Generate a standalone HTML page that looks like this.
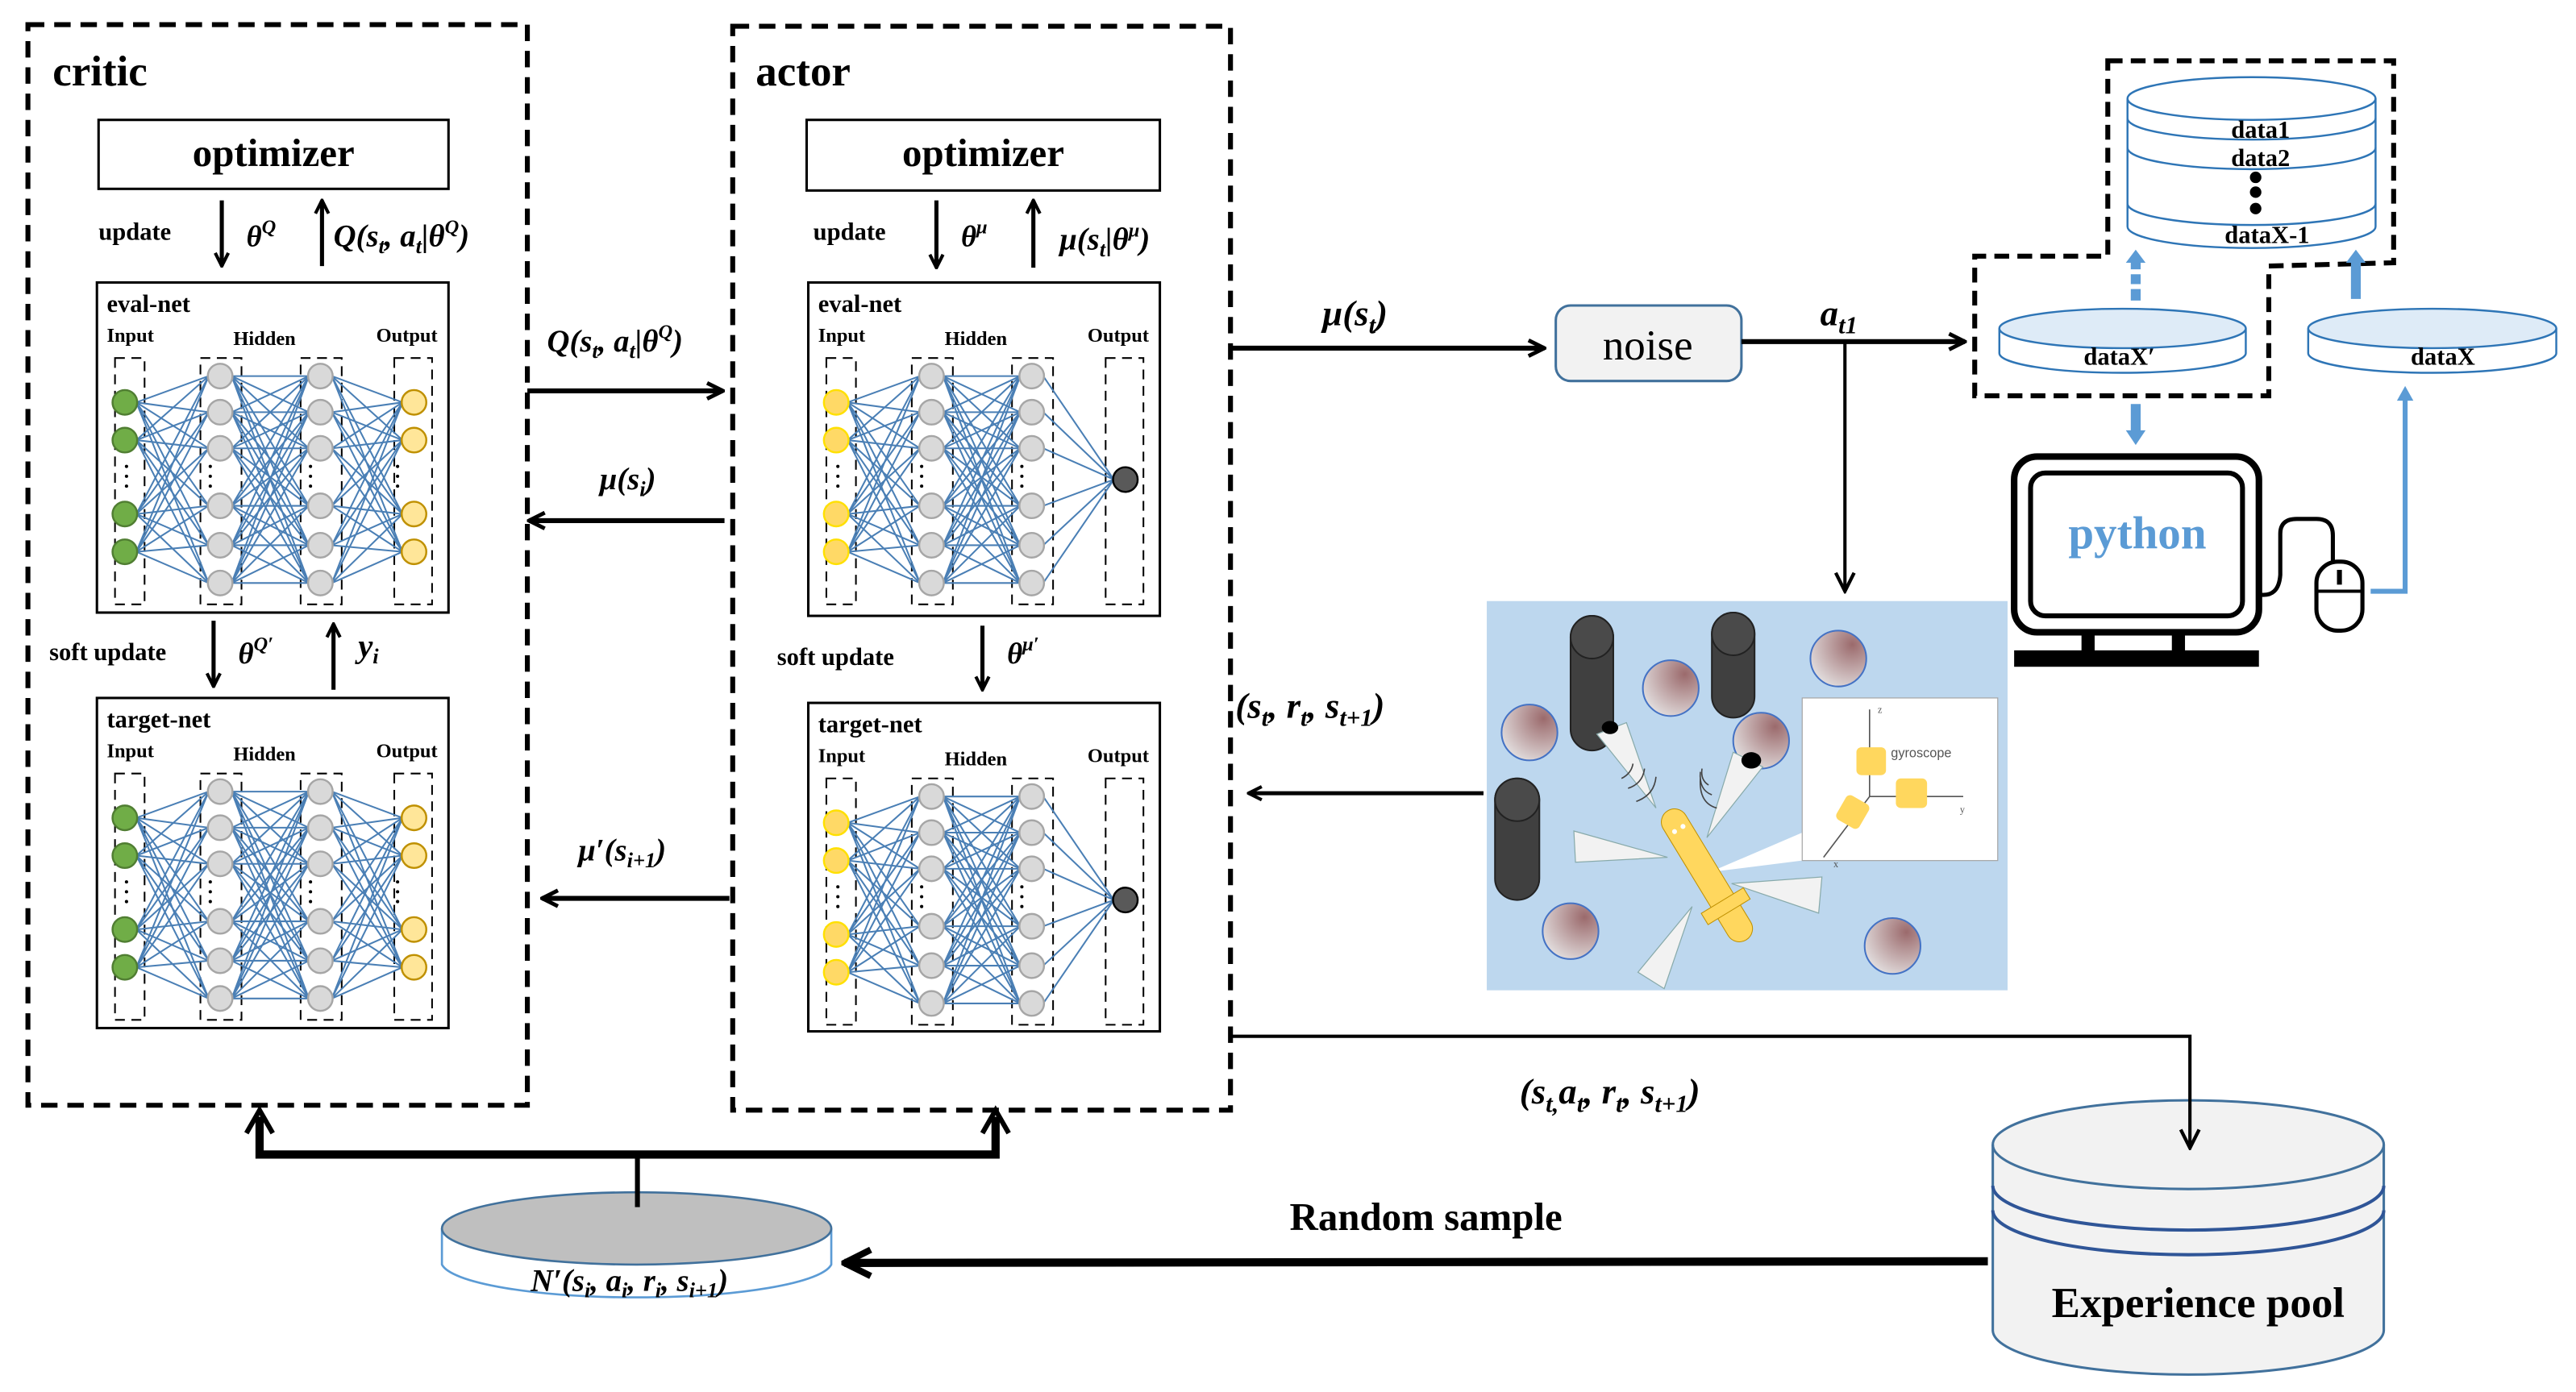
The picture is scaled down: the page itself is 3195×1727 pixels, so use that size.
<!DOCTYPE html>
<html><head><meta charset="utf-8">
<style>
html,body{margin:0;padding:0;background:#fff;}
svg{display:block;}
text{font-family:"Liberation Serif",serif;}
.b{font-weight:bold;}
.m{font-weight:bold;font-style:italic;}
</style></head>
<body>
<svg id="s" xmlns="http://www.w3.org/2000/svg" width="3195" height="1727" viewBox="0 0 1568 847.6" preserveAspectRatio="none">
<defs>
<marker id="ah" viewBox="0 0 10 10" refX="9" refY="5" markerWidth="4" markerHeight="4" orient="auto" markerUnits="strokeWidth"><path d="M1,1 L9,5 L1,9" fill="none" stroke="#000" stroke-width="2"/></marker>
<marker id="ahs" viewBox="0 0 10 10" refX="9" refY="5" markerWidth="7" markerHeight="7" orient="auto" markerUnits="strokeWidth"><path d="M1,1 L9,5 L1,9" fill="none" stroke="#000" stroke-width="1.5"/></marker>
<radialGradient id="ball" cx="0.75" cy="0.25" r="0.9"><stop offset="0" stop-color="#9b6a6c"/><stop offset="1" stop-color="#e6e4e4"/></radialGradient>
</defs>

<rect x="17" y="15" width="304" height="658" fill="none" stroke="#000" stroke-width="3" stroke-dasharray="10,6"/>
<rect x="446" y="16" width="303" height="660" fill="none" stroke="#000" stroke-width="3" stroke-dasharray="10,6"/>
<text x="32" y="52" class="b" font-size="26">critic</text>
<text x="460" y="52" class="b" font-size="26">actor</text>

<rect x="60" y="73" width="213" height="42" fill="#fff" stroke="#000" stroke-width="1.5"/>
<text x="166.5" y="101" class="b" font-size="24" text-anchor="middle">optimizer</text>
<rect x="491" y="73" width="215" height="43" fill="#fff" stroke="#000" stroke-width="1.5"/>
<text x="598.5" y="101" class="b" font-size="24" text-anchor="middle">optimizer</text>

<text x="60" y="146" class="b" font-size="15">update</text>
<line x1="135" y1="122" x2="135" y2="162" stroke="#000" stroke-width="2.5" marker-end="url(#ah)"/>
<text x="150" y="150" class="m" font-size="18">θ<tspan font-size="12" dy="-8">Q</tspan></text>
<line x1="196" y1="162" x2="196" y2="122" stroke="#000" stroke-width="2.5" marker-end="url(#ah)"/>
<text x="203" y="150" class="m" font-size="19">Q(s<tspan font-size="13" dy="4">t</tspan><tspan dy="-4">, a</tspan><tspan font-size="13" dy="4">t</tspan><tspan dy="-4">|θ</tspan><tspan font-size="12" dy="-8">Q</tspan><tspan dy="8">)</tspan></text>

<text x="30" y="402" class="b" font-size="15">soft update</text>
<line x1="130" y1="378" x2="130" y2="418" stroke="#000" stroke-width="2.5" marker-end="url(#ah)"/>
<text x="145" y="404" class="m" font-size="18">θ<tspan font-size="12" dy="-8">Q′</tspan></text>
<line x1="203" y1="420" x2="203" y2="380" stroke="#000" stroke-width="2.5" marker-end="url(#ah)"/>
<text x="218" y="400" class="m" font-size="20">y<tspan font-size="13" dy="4">i</tspan></text>

<text x="495" y="146" class="b" font-size="15">update</text>
<line x1="570" y1="122" x2="570" y2="163" stroke="#000" stroke-width="2.5" marker-end="url(#ah)"/>
<text x="585" y="150" class="m" font-size="18">θ<tspan font-size="12" dy="-8">μ</tspan></text>
<line x1="629" y1="163" x2="629" y2="122" stroke="#000" stroke-width="2.5" marker-end="url(#ah)"/>
<text x="645" y="152" class="m" font-size="19">μ(s<tspan font-size="13" dy="4">t</tspan><tspan dy="-4">|θ</tspan><tspan font-size="12" dy="-8">μ</tspan><tspan dy="8">)</tspan></text>

<text x="473" y="405" class="b" font-size="15">soft update</text>
<line x1="598" y1="381" x2="598" y2="420" stroke="#000" stroke-width="2.5" marker-end="url(#ah)"/>
<text x="613" y="404" class="m" font-size="18">θ<tspan font-size="12" dy="-8">μ′</tspan></text>

<g id="nets"></g>

<text x="333" y="214" class="m" font-size="19">Q(s<tspan font-size="13" dy="4">t</tspan><tspan dy="-4">, a</tspan><tspan font-size="13" dy="4">t</tspan><tspan dy="-4">|θ</tspan><tspan font-size="12" dy="-8">Q</tspan><tspan dy="8">)</tspan></text>
<line x1="321" y1="238" x2="440" y2="238" stroke="#000" stroke-width="3" marker-end="url(#ah)"/>
<text x="365" y="298" class="m" font-size="19">μ(s<tspan font-size="13" dy="4">i</tspan><tspan dy="-4">)</tspan></text>
<line x1="441" y1="317" x2="322" y2="317" stroke="#000" stroke-width="3" marker-end="url(#ah)"/>
<text x="352" y="524" class="m" font-size="19">μ′(s<tspan font-size="13" dy="4">i+1</tspan><tspan dy="-4">)</tspan></text>
<line x1="444" y1="547" x2="330" y2="547" stroke="#000" stroke-width="3" marker-end="url(#ah)"/>

<text x="805" y="198" class="m" font-size="22">μ(s<tspan font-size="15" dy="5">t</tspan><tspan dy="-5">)</tspan></text>
<line x1="749" y1="212" x2="940" y2="212" stroke="#000" stroke-width="3" marker-end="url(#ah)"/>
<rect x="947" y="186" width="113" height="46" rx="9" fill="#f2f2f2" stroke="#41719c" stroke-width="1.5"/>
<text x="1003" y="219" font-size="26" text-anchor="middle">noise</text>
<text x="1108" y="198" class="m" font-size="22">a<tspan font-size="15" dy="5">t1</tspan></text>
<line x1="1060" y1="208" x2="1196" y2="208" stroke="#000" stroke-width="3" marker-end="url(#ah)"/>
<line x1="1123" y1="208" x2="1123" y2="360" stroke="#000" stroke-width="2" marker-end="url(#ahs)"/>

<rect x="905" y="366" width="317" height="237" fill="#bdd7ee"/>
<g stroke="#4472c4" stroke-width="1" fill="url(#ball)">
<ellipse cx="931" cy="446" rx="17" ry="17"/>
<ellipse cx="1017" cy="419" rx="17" ry="17"/>
<ellipse cx="1119" cy="401" rx="17" ry="17"/>
<ellipse cx="1072" cy="451" rx="17" ry="17"/>
<ellipse cx="956" cy="567" rx="17" ry="17"/>
<ellipse cx="1152" cy="576" rx="17" ry="17"/>
</g>
<g fill="#404040" stroke="#222" stroke-width="1">
<path d="M956,388 A13,13 0 0 1 982,388 L982,444 A13,13 0 0 1 956,444 Z"/>
<ellipse cx="969" cy="388" rx="13" ry="13" fill="#4a4a4a"/>
<path d="M1042,386 A13,13 0 0 1 1068,386 L1068,424 A13,13 0 0 1 1042,424 Z"/>
<ellipse cx="1055" cy="386" rx="13" ry="13" fill="#4a4a4a"/>
<path d="M910,487 A13.5,13 0 0 1 937,487 L937,535 A13.5,13 0 0 1 910,535 Z"/>
<ellipse cx="923.5" cy="487" rx="13.5" ry="13" fill="#4a4a4a"/>
</g>
<g fill="#f2f2f2" stroke="#8aa" stroke-width="0.6">
<polygon points="1008,492 972,447 990,440"/>
<polygon points="1039,510 1055,458 1073,467"/>
<polygon points="1015,522 958,506 959,525"/>
<polygon points="1054,538 1109,534 1107,556"/>
<polygon points="1030,552 997,592 1013,602"/>
<polygon points="1041,531 1097,507 1097,524" fill="#fff" stroke="none"/>
</g>
<ellipse cx="980" cy="443" rx="5" ry="4" fill="#000"/>
<ellipse cx="1066" cy="463" rx="6" ry="5" fill="#000"/>
<g fill="none" stroke="#444" stroke-width="0.8">
<path d="M987,474 q6,-3 7,-9"/><path d="M991,480 q9,-3 10,-12"/><path d="M996,488 q11,-4 12,-15"/>
<path d="M1040,478 q-5,-3 -4,-10"/><path d="M1042,484 q-8,-3 -7,-14"/><path d="M1045,492 q-11,-3 -10,-18"/>
</g>
<g transform="translate(1039,533) rotate(58.7)">
<rect x="-46" y="-8" width="92" height="16" rx="8" fill="#ffd75e" stroke="#bf9000" stroke-width="0.5"/>
<rect x="18" y="-15" width="8" height="30" fill="#ffd75e" stroke="#bf9000" stroke-width="0.5"/>
<circle cx="-33" cy="-3" r="1.5" fill="#fff"/><circle cx="-33" cy="3" r="1.5" fill="#fff"/>
</g>
<rect x="1097" y="425" width="119" height="99" fill="#fff" stroke="#a6a6a6" stroke-width="0.6"/>
<g stroke="#555" stroke-width="0.8" fill="none">
<line x1="1138" y1="485" x2="1138" y2="432"/>
<line x1="1138" y1="485" x2="1195" y2="485"/>
<line x1="1138" y1="485" x2="1110" y2="522"/>
</g>
<rect x="1130" y="455" width="18" height="17" rx="3" fill="#ffd75e"/>
<rect x="1154" y="474" width="19" height="18" rx="3" fill="#ffd75e"/>
<rect x="1120" y="486" width="16" height="17" rx="3" fill="#ffd75e" transform="rotate(30 1128 494)"/>
<text x="1151" y="461" font-size="8" fill="#555" style="font-family:'Liberation Sans',sans-serif">gyroscope</text>
<text x="1143" y="434" font-size="6" fill="#555">z</text>
<text x="1193" y="495" font-size="6" fill="#555">y</text>
<text x="1116" y="528" font-size="6" fill="#555">x</text>

<text x="752" y="437" class="m" font-size="22">(s<tspan font-size="15" dy="5">t</tspan><tspan dy="-5">, r</tspan><tspan font-size="15" dy="5">t</tspan><tspan dy="-5">, s</tspan><tspan font-size="15" dy="5">t+1</tspan><tspan dy="-5">)</tspan></text>
<line x1="903" y1="483" x2="760" y2="483" stroke="#000" stroke-width="2.5" marker-end="url(#ah)"/>

<text x="925" y="672" class="m" font-size="22">(s<tspan font-size="15" dy="5">t,</tspan><tspan dy="-5">a</tspan><tspan font-size="15" dy="5">t</tspan><tspan dy="-5">, r</tspan><tspan font-size="15" dy="5">t</tspan><tspan dy="-5">, s</tspan><tspan font-size="15" dy="5">t+1</tspan><tspan dy="-5">)</tspan></text>

<path d="M1213,697 A119,27 0 0 1 1451,697 L1451,810 A119,27 0 0 1 1213,810 Z" fill="#f2f2f2" stroke="#41719c" stroke-width="1.5"/>
<path d="M1213,697 A119,27 0 0 0 1451,697" fill="none" stroke="#41719c" stroke-width="1.5"/>
<path d="M1213,722 A119,27 0 0 0 1451,722" fill="none" stroke="#2f5597" stroke-width="2"/>
<path d="M1213,737 A119,27 0 0 0 1451,737" fill="none" stroke="#2f5597" stroke-width="2"/>
<text x="1338" y="802" class="b" font-size="26" text-anchor="middle">Experience pool</text>
<polyline points="749,631 1333,631 1333,699" fill="none" stroke="#000" stroke-width="2" marker-end="url(#ahs)"/>

<text x="868" y="749" class="b" font-size="24" text-anchor="middle">Random sample</text>
<line x1="1210" y1="768" x2="514" y2="769" stroke="#000" stroke-width="5" marker-end="url(#ah)"/>

<path d="M269,748 L269,770 A119,22 0 0 0 506,770 L506,748" fill="#fff" stroke="#5b9bd5" stroke-width="1.3"/>
<ellipse cx="387.5" cy="748" rx="118.5" ry="22" fill="#bfbfbf" stroke="#41719c" stroke-width="1.3"/>
<text x="323" y="786" class="m" font-size="19">N′(s<tspan font-size="13" dy="4">i</tspan><tspan dy="-4">, a</tspan><tspan font-size="13" dy="4">i</tspan><tspan dy="-4">, r</tspan><tspan font-size="13" dy="4">i</tspan><tspan dy="-4">, s</tspan><tspan font-size="13" dy="4">i+1</tspan><tspan dy="-4">)</tspan></text>
<line x1="388" y1="735" x2="388" y2="703" stroke="#000" stroke-width="3"/>
<polyline points="158,680 158,703 606,703 606,680" fill="none" stroke="#000" stroke-width="5"/>
<path d="M150,690 L158,676 L166,690" fill="none" stroke="#000" stroke-width="3"/>
<path d="M598,690 L606,676 L614,690" fill="none" stroke="#000" stroke-width="3"/>

<polygon points="1283,37 1457,37 1457,160 1381,162 1381,241 1202,241 1202,156 1283,156" fill="none" stroke="#000" stroke-width="3" stroke-dasharray="9,5"/>
<path d="M1295,60 A75.5,13 0 0 1 1446,60 L1446,138 A75.5,13 0 0 1 1295,138 Z" fill="#fff" stroke="#2e75b6" stroke-width="1.2"/>
<path d="M1295,60 A75.5,13 0 0 0 1446,60" fill="none" stroke="#2e75b6" stroke-width="1.2"/>
<path d="M1295,72 A75.5,13 0 0 0 1446,72" fill="none" stroke="#2e75b6" stroke-width="1.2"/>
<path d="M1295,90 A75.5,13 0 0 0 1446,90" fill="none" stroke="#2e75b6" stroke-width="1.2"/>
<path d="M1295,124 A75.5,13 0 0 0 1446,124" fill="none" stroke="#2e75b6" stroke-width="1.2"/>
<text x="1376" y="84" class="b" font-size="15" text-anchor="middle">data1</text>
<text x="1376" y="101" class="b" font-size="15" text-anchor="middle">data2</text>
<circle cx="1373" cy="108" r="3.5"/><circle cx="1373" cy="117" r="3.5"/><circle cx="1373" cy="127" r="3.5"/>
<text x="1380" y="148" class="b" font-size="15" text-anchor="middle">dataX-1</text>

<path d="M1217,200 L1217,215 A75,12 0 0 0 1367,215 L1367,200" fill="#fff" stroke="#2e75b6" stroke-width="1.2"/>
<ellipse cx="1292" cy="200" rx="75" ry="12" fill="#deebf7" stroke="#2e75b6" stroke-width="1.2"/>
<text x="1290" y="222" class="b" font-size="15" text-anchor="middle">dataX′</text>
<path d="M1405,200 L1405,215 A75.5,12 0 0 0 1556,215 L1556,200" fill="#fff" stroke="#2e75b6" stroke-width="1.2"/>
<ellipse cx="1480.5" cy="200" rx="75.5" ry="12" fill="#deebf7" stroke="#2e75b6" stroke-width="1.2"/>
<text x="1487" y="222" class="b" font-size="15" text-anchor="middle">dataX</text>

<g fill="#5b9bd5">
<polygon points="1300,152 1306,160 1303,160 1303,164 1297,164 1297,160 1294,160"/>
<rect x="1297" y="167" width="6" height="6"/><rect x="1297" y="176" width="6" height="7"/>
<polygon points="1434,152 1440,160 1437,160 1437,182 1431,182 1431,160 1428,160"/>
<polygon points="1300,271 1306,262 1303,262 1303,246 1297,246 1297,262 1294,262"/>
</g>
<polyline points="1443,360 1464,360 1464,240" fill="none" stroke="#5b9bd5" stroke-width="3"/>
<polygon points="1464,235 1469,244 1459,244" fill="#5b9bd5"/>

<rect x="1226" y="278" width="149" height="107" rx="14" fill="#fff" stroke="#000" stroke-width="4"/>
<rect x="1236" y="288" width="129" height="87" rx="9" fill="#fff" stroke="#000" stroke-width="3"/>
<text x="1301" y="334" class="b" font-size="28" fill="#5b9bd5" text-anchor="middle">python</text>
<rect x="1267" y="385" width="8" height="12"/><rect x="1322" y="385" width="8" height="12"/>
<rect x="1226" y="396" width="149" height="10"/>
<path d="M1375,362 Q1387,364 1388,350 L1388,325 Q1388,316 1398,316 L1410,316 Q1420,316 1420,326 L1420,342" fill="none" stroke="#000" stroke-width="2.5"/>
<rect x="1410" y="342" width="28" height="42" rx="13" fill="#fff" stroke="#000" stroke-width="2.5"/>
<line x1="1410" y1="360" x2="1438" y2="360" stroke="#000" stroke-width="2"/>
<line x1="1424" y1="347" x2="1424" y2="356" stroke="#000" stroke-width="3"/>
</svg>
<script>
(function(){
var NS="http://www.w3.org/2000/svg",g=document.getElementById("nets");
function el(t,a,txt){var e=document.createElementNS(NS,t);for(var k in a)e.setAttribute(k,a[k]);if(txt)e.textContent=txt;g.appendChild(e);return e;}
function net(ox,oy,h,label,actor){
 el("rect",{x:ox,y:oy,width:214,height:h,fill:"#fff",stroke:"#000","stroke-width":1.5});
 el("text",{x:ox+6,y:oy+18,"font-size":15,"font-weight":"bold"},label);
 el("text",{x:ox+6,y:oy+36,"font-size":12,"font-weight":"bold"},"Input");
 el("text",{x:ox+83,y:oy+38,"font-size":12,"font-weight":"bold"},"Hidden");
 el("text",{x:ox+170,y:oy+36,"font-size":12,"font-weight":"bold"},"Output");
 var cx=[17,75,136,193],cols=[[11,29],[63,88],[124,149],[181,204]];
 cols.forEach(function(c){el("rect",{x:ox+c[0],y:oy+46,width:c[1]-c[0],height:150,fill:"none",stroke:"#000","stroke-width":1,"stroke-dasharray":"6,4"});});
 var hid=[57,79,101,136,160,183],inp=[73,96,141,164];
 var layers=[inp,hid,hid,actor?[120]:inp];
 for(var l=0;l<3;l++)layers[l].forEach(function(a){layers[l+1].forEach(function(b){
  el("line",{x1:ox+cx[l]+7,y1:oy+a,x2:ox+cx[l+1]-7,y2:oy+b,stroke:"#4a7fb5","stroke-width":1});});});
 var fills=actor?[["#ffd966","#ffe000"],["#d9d9d9","#a6a6a6"],["#d9d9d9","#a6a6a6"],["#595959","#000"]]:[["#70ad47","#507e32"],["#d9d9d9","#a6a6a6"],["#d9d9d9","#a6a6a6"],["#ffe699","#bf9000"]];
 for(var l=0;l<4;l++){layers[l].forEach(function(y){el("circle",{cx:ox+cx[l],cy:oy+y,r:7.5,fill:fills[l][0],stroke:fills[l][1],"stroke-width":1.2});});
  if(!(actor&&l==3)){[112,118,124].forEach(function(y){el("circle",{cx:ox+cx[l]-(l==0?-1:6)+(l==3?-4:0),cy:oy+y,r:1,fill:"#000"});});}}
}
net(59,172,201,"eval-net",false);
net(59,425,201,"target-net",false);
net(492,172,203,"eval-net",true);
net(492,428,200,"target-net",true);
})();
</script>
</body></html>
